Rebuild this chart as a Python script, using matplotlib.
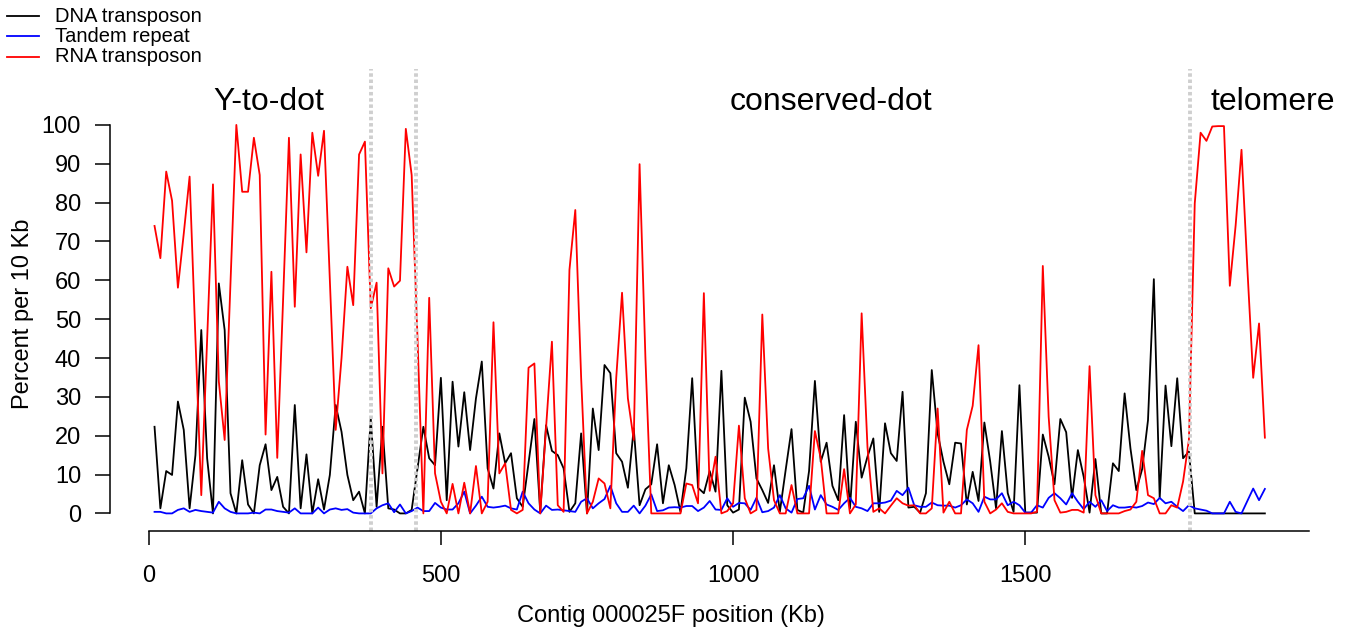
import numpy as np
import matplotlib
matplotlib.use("Agg")
import matplotlib.pyplot as plt
from matplotlib.lines import Line2D

plt.rcParams['font.family'] = ['Liberation Sans', 'DejaVu Sans']

# window centres along the contig (10 Kb windows)
position_kb = np.arange(10, 1911, 10)

dna_transposon = [
    22.3, 1.3, 10.9, 9.9, 28.8, 21.5, 1.3, 15, 47.2, 14.2,
    0, 59.2, 47.2, 5.2, 0, 13.7, 2.3, 0, 12.4, 17.8,
    6, 9.4, 1.7, 0, 27.9, 1.3, 15.2, 0, 8.8, 1,
    9.9, 27.9, 21, 9.9, 3.4, 5.6, 0, 24.5, 1.7, 22.3,
    1.3, 1, 0, 0, 0.9, 11.6, 22.3, 14.2, 12.4, 34.9,
    3.4, 33.9, 17.2, 31.2, 16.3, 29.6, 39.1, 11.6, 6.4, 20.6,
    12.9, 15.5, 3.9, 1.7, 13, 24.3, 0.4, 22.7, 16.1, 15,
    11.6, 0.4, 2.6, 20.6, 0, 27, 16.3, 38.2, 36.1, 15.5,
    13.3, 6.6, 21.9, 2.1, 6.2, 7.5, 17.8, 2.6, 12.4, 7.3,
    0.4, 11.6, 34.8, 6.6, 5.2, 10.9, 5.6, 36.7, 2.1, 0.2,
    1, 29.8, 23.6, 9, 6, 2.7, 12.4, 0.4, 11.2, 21.7,
    0.9, 0.2, 10.9, 34.1, 13.3, 18.2, 7.1, 3.4, 25.3, 1.3,
    23.6, 9.2, 14.6, 19.3, 0.4, 23.2, 15.5, 13.5, 31.3, 1.5,
    1.7, 0.2, 5.2, 36.9, 20.6, 13.3, 7.5, 18.2, 18, 2.3,
    10.7, 3.2, 23.4, 13.3, 1.3, 21.2, 5.2, 0.4, 33, 0.2,
    0.2, 0.2, 20.3, 14.6, 7.5, 24.3, 20.9, 4, 16.3, 9.4,
    0.2, 14, 0, 0, 12.9, 10.9, 30.9, 16.7, 6, 11.4,
    24, 60.3, 3.9, 32.9, 17.3, 34.8, 14.2, 15.9, 0, 0,
    0, 0, 0, 0, 0, 0, 0, 0, 0, 0,
    0,
]

tandem_repeat = [
    0.4, 0.4, 0, 0, 0.9, 1.3, 0.4, 0.9, 0.6, 0.4,
    0.2, 3, 1.3, 0.4, 0, 0, 0, 0.2, 0, 1,
    1, 0.6, 0.4, 0.2, 1.3, 0, 0, 0, 1.5, 0,
    1, 1.3, 0.9, 1.1, 0.2, 0, 0, 0, 1.3, 2.1,
    2.6, 0.3, 2.3, 0, 0.6, 1.5, 0.6, 0.6, 2.7, 1.5,
    1, 1, 2.6, 5.6, 0, 2, 4.3, 1.7, 1.5, 1.7,
    2, 1.3, 1, 5.6, 2.6, 1, 0, 2, 0.9, 1,
    0.8, 0.6, 0.4, 3, 3.9, 1.3, 2.6, 3.7, 7.1, 2.6,
    0.4, 0.4, 2, 0, 2, 4.9, 0.6, 0.8, 1.5, 1.6,
    1.5, 1.9, 1.9, 0.6, 1.5, 3.2, 1, 0.9, 3.9, 1.7,
    2.7, 2.6, 0.9, 4, 0.3, 0.6, 1.5, 4.7, 1.3, 0.2,
    3.7, 3.9, 7.1, 1, 4.7, 2.3, 1.7, 0.9, 2.6, 4,
    1.7, 1.3, 0.6, 2.6, 2.6, 2.8, 3.3, 5.8, 4.7, 6.6,
    2.1, 1.7, 1.7, 2.8, 2.1, 2, 2, 1.5, 2.1, 3.6,
    2.6, 0.4, 4.3, 3.6, 3.6, 5.2, 2.1, 3, 2.1, 0.2,
    0.2, 2.1, 1.5, 4, 5.2, 3.9, 2.3, 5.2, 3, 1.1,
    3, 1.7, 3.4, 0.6, 2.1, 1.5, 1.5, 1.7, 1.5, 1.9,
    2.8, 2.4, 4, 2.6, 3, 1.7, 0.6, 2.1, 1.3, 1,
    0.7, 0, 0, 0, 3, 0.4, 0, 3.2, 6.4, 3.4,
    6.3,
]

rna_transposon = [
    74, 65.7, 88, 80.5, 58.1, 72, 86.7, 45, 4.7, 44.7,
    84.7, 34, 18.9, 59.7, 100, 82.8, 82.8, 96.7, 87.1, 20.3,
    62.2, 14.3, 55, 96.7, 53.2, 92.4, 67.2, 98, 86.9, 98.5,
    59.7, 21.5, 40, 63.5, 53.6, 92.4, 95.7, 52.8, 59.4, 10.3,
    63.1, 58.4, 59.9, 99, 87.1, 45, 0, 55.5, 10.3, 3,
    0, 7.6, 0, 7.9, 0, 12.2, 0, 3, 49.2, 10.3,
    12.9, 0.9, 0, 0.9, 37.5, 38.6, 0, 22, 44.2, 2.1,
    0.4, 62.7, 78.1, 35, 0, 3, 9, 7.7, 1.3, 34.8,
    56.8, 29.6, 18.9, 89.9, 40, 0, 0, 0, 0, 0,
    0, 7.7, 7.3, 2.6, 56.7, 5.8, 14.6, 0, 0.6, 2.6,
    22.6, 3.9, 0, 0.9, 51.2, 16.7, 3.4, 0, 0, 7.3,
    0, 0, 0, 21.2, 14.2, 0, 0, 0, 11.4, 0,
    2.3, 51.5, 17, 0.4, 1.3, 0, 2, 3.9, 2.6, 2,
    2.1, 0, 0, 1.3, 27, 0.2, 3, 0, 0, 21.5,
    27.7, 43.3, 3, 0, 1, 2.6, 0.4, 0, 0, 0,
    0, 0.4, 63.7, 24.9, 3.4, 0.2, 0.4, 0.9, 0.9, 0.2,
    37.9, 4.7, 0, 0, 0, 0, 0.6, 1, 3, 16.1,
    4.7, 3.9, 0, 0, 2.1, 1.5, 8.2, 18.9, 79.8, 98,
    95.9, 99.6, 99.7, 99.7, 58.6, 74.2, 93.6, 63.1, 34.9, 48.9,
    19.5,
]

# region boundaries (Kb) and labels
boundaries_kb = [380, 457, 1782]
region_names = ["Y-to-dot", "conserved-dot", "telomere"]
region_label_kb = [205, 1167, 1923]

series_names = ["DNA transposon", "Tandem repeat", "RNA transposon"]
series_colors = ["black", "blue", "red"]

W, H = 1349, 627
fig = plt.figure(figsize=(W / 100, H / 100), dpi=100)
ax = fig.add_axes([110 / W, 1 - 530.5 / H, (1309 - 110) / W, (530.5 - 69) / H])

for vals, col in zip([dna_transposon, tandem_repeat, rna_transposon], series_colors):
    ax.plot(position_kb, vals, color=col, lw=1.3)

for b in boundaries_kb:
    ax.axvline(b, color="#cfcfcf", lw=2.8, linestyle=(0, (0.9, 0.7)))

for name, xk in zip(region_names, region_label_kb):
    ax.text(xk, 103.9, name, ha="center", va="baseline", fontsize=23)

ax.set_xlim(-66.2, 1985.5)
ax.set_ylim(-4.4, 114.4)

for s in ["top", "right"]:
    ax.spines[s].set_visible(False)
ax.spines["left"].set_bounds(0, 100)
ax.spines["bottom"].set_bounds(0, 1985.5)
ax.spines["left"].set_linewidth(1.1)
ax.spines["bottom"].set_linewidth(1.1)

ax.set_xticks([0, 500, 1000, 1500])
ax.set_yticks(np.arange(0, 101, 10))
ax.tick_params(axis="x", length=10, width=1.1, labelsize=17, pad=15)
ax.tick_params(axis="y", length=10.8, width=1.1, labelsize=17, pad=10)

fig.text(671 / W, 1 - 621.7 / H, "Contig 000025F position (Kb)",
         ha="center", va="baseline", fontsize=17)
fig.text(22.5 / W, 1 - 314 / H, "Percent per 10 Kb", rotation=90,
         ha="center", va="center", fontsize=17)

# legend in the top-left corner, outside the plot
for k, (name, col) in enumerate(zip(series_names, series_colors)):
    yy = 1 - (16 + 20.3 * k) / H
    fig.add_artist(Line2D([7 / W, 39 / W], [yy, yy], color=col, lw=1.3,
                          transform=fig.transFigure))
    fig.text(55 / W, yy, name, ha="left", va="center", fontsize=14.5)

fig.savefig("out.png", dpi=100)
